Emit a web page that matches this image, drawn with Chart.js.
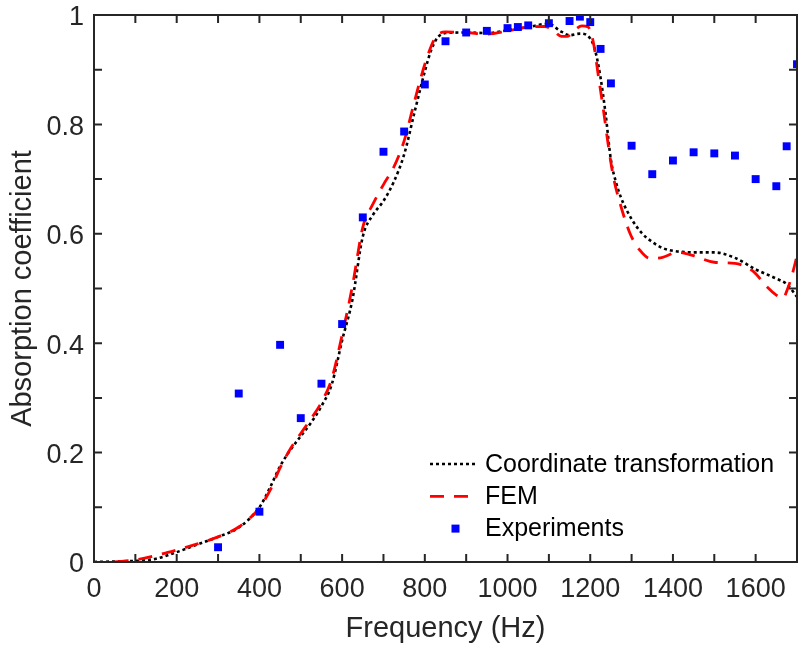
<!DOCTYPE html>
<html>
<head>
<meta charset="utf-8">
<script src="https://cdn.jsdelivr.net/npm/chart.js@4.4.0/dist/chart.umd.min.js"></script>
<style>
html,body{margin:0;padding:0;background:#ffffff;}
canvas{display:block;}
</style>
</head>
<body>
<canvas id="c" width="798" height="651"></canvas>
<script>
// ---- Data ----
const ctFreq = [0, 50, 100, 150, 200, 250, 300, 350, 400, 425, 450, 475, 500, 525, 550, 575, 600, 625, 650, 675, 700, 725, 750, 775, 800, 815, 830, 850, 900, 950, 1000, 1050, 1100, 1125, 1150, 1175, 1200, 1212, 1225, 1237, 1250, 1262, 1275, 1300, 1325, 1350, 1375, 1400, 1450, 1500, 1550, 1600, 1650, 1675, 1700];
const ctAbs  = [0.0, 0.001, 0.002, 0.006, 0.018, 0.032, 0.046, 0.063, 0.100, 0.135, 0.175, 0.205, 0.230, 0.255, 0.285, 0.325, 0.405, 0.480, 0.595, 0.635, 0.660, 0.695, 0.745, 0.822, 0.897, 0.935, 0.958, 0.967, 0.968, 0.967, 0.972, 0.978, 0.984, 0.972, 0.963, 0.966, 0.957, 0.935, 0.885, 0.820, 0.735, 0.695, 0.665, 0.627, 0.601, 0.585, 0.574, 0.569, 0.566, 0.566, 0.556, 0.535, 0.518, 0.508, 0.485];

const femFreq = [50, 100, 150, 200, 250, 300, 350, 400, 425, 450, 475, 500, 525, 550, 575, 600, 625, 650, 675, 700, 725, 750, 775, 800, 825, 850, 900, 950, 1000, 1050, 1090, 1110, 1130, 1145, 1160, 1180, 1195, 1207, 1220, 1232, 1244, 1256, 1272, 1296, 1320, 1345, 1375, 1410, 1450, 1500, 1550, 1595, 1625, 1650, 1665, 1680, 1690, 1700];
const femAbs  = [0.0, 0.004, 0.012, 0.022, 0.033, 0.046, 0.064, 0.099, 0.130, 0.172, 0.207, 0.235, 0.262, 0.292, 0.335, 0.415, 0.505, 0.612, 0.655, 0.690, 0.722, 0.770, 0.842, 0.910, 0.958, 0.969, 0.968, 0.965, 0.971, 0.978, 0.979, 0.972, 0.961, 0.961, 0.971, 0.980, 0.978, 0.952, 0.887, 0.826, 0.760, 0.704, 0.656, 0.601, 0.570, 0.555, 0.557, 0.566, 0.560, 0.548, 0.546, 0.531, 0.505, 0.488, 0.482, 0.505, 0.530, 0.560];

const expFreq = [300, 350, 400, 450, 500, 550, 600, 650, 700, 750, 800, 850, 900, 950, 1000, 1025, 1050, 1100, 1150, 1175, 1200, 1225, 1250, 1300, 1350, 1400, 1450, 1500, 1550, 1600, 1650, 1675, 1700];
const expAbs  = [0.027, 0.308, 0.092, 0.397, 0.263, 0.326, 0.435, 0.630, 0.750, 0.787, 0.873, 0.952, 0.968, 0.971, 0.976, 0.978, 0.981, 0.985, 0.989, 0.997, 0.987, 0.938, 0.875, 0.761, 0.709, 0.734, 0.749, 0.747, 0.743, 0.700, 0.687, 0.760, 0.910];

const seriesLabels = ['Coordinate transformation', 'FEM', 'Experiments'];
const xTickLabels = [0, 200, 400, 600, 800, 1000, 1200, 1400, 1600];
const yTickLabels = [0, 0.2, 0.4, 0.6, 0.8, 1];
const xTitle = 'Frequency (Hz)';
const yTitle = 'Absorption coefficient';

// ---- helpers ----
const toPts = (xs, ys) => xs.map((v, i) => ({x: v, y: ys[i]}));
const FONT = "'Liberation Sans', Arial, Helvetica, sans-serif";
const AXIS = '#262626';

const axesBoxPlugin = {
  id: 'axesBox',
  afterDraw(chart) {
    const {ctx, chartArea: a, scales: {x, y}} = chart;
    ctx.save();
    ctx.strokeStyle = AXIS;
    ctx.lineWidth = 2;
    ctx.lineCap = 'butt';
    ctx.strokeRect(a.left, a.top, a.right - a.left, a.bottom - a.top);
    const L = 8;
    ctx.beginPath();
    x.ticks.forEach(t => {
      const px = x.getPixelForValue(t.value);
      ctx.moveTo(px, a.bottom); ctx.lineTo(px, a.bottom - L);
      ctx.moveTo(px, a.top); ctx.lineTo(px, a.top + L);
    });
    y.ticks.forEach(t => {
      const py = y.getPixelForValue(t.value);
      ctx.moveTo(a.left, py); ctx.lineTo(a.left + L, py);
      ctx.moveTo(a.right, py); ctx.lineTo(a.right - L, py);
    });
    ctx.stroke();

    // legend (inside the axes, lower right, no box)
    const ds = chart.data.datasets;
    const sx0 = a.right - 367, sx1 = sx0 + 47, tx = sx0 + 55;
    const row0 = a.bottom - 98, gap = 32.3;
    ctx.font = "25px " + FONT;
    ctx.textBaseline = 'middle';
    ctx.textAlign = 'left';
    ds.forEach((d, i) => {
      const yy = row0 + i * gap;
      if (d.showLine) {
        ctx.beginPath();
        ctx.strokeStyle = d.borderColor;
        ctx.lineWidth = d.borderWidth;
        ctx.setLineDash(d.borderDash || []);
        ctx.moveTo(sx0, yy); ctx.lineTo(sx1, yy);
        ctx.stroke();
        ctx.setLineDash([]);
      } else {
        const s = 8;
        ctx.fillStyle = d.pointBackgroundColor;
        ctx.fillRect((sx0 + sx1) / 2 - s / 2 + 2, yy - s / 2, s, s);
      }
      ctx.fillStyle = '#000000';
      ctx.fillText(d.label, tx, yy + 1);
    });
    ctx.restore();
  }
};

const noPad = s => { s.paddingTop = 0; s.paddingBottom = 0; s.paddingLeft = 0; s.paddingRight = 0; };

new Chart(document.getElementById('c'), {
  type: 'scatter',
  data: {
    datasets: [
      {
        label: seriesLabels[0],
        data: toPts(ctFreq, ctAbs),
        showLine: true,
        borderColor: '#000000',
        borderWidth: 2.6,
        borderDash: [3, 3],
        pointRadius: 0,
        cubicInterpolationMode: 'monotone',
        order: 2
      },
      {
        label: seriesLabels[1],
        data: toPts(femFreq, femAbs),
        showLine: true,
        borderColor: '#ff0000',
        borderWidth: 2.8,
        borderDash: [14, 10],
        pointRadius: 0,
        cubicInterpolationMode: 'monotone',
        order: 1
      },
      {
        label: seriesLabels[2],
        data: toPts(expFreq, expAbs),
        showLine: false,
        pointStyle: 'rect',
        pointRadius: 5.6,
        pointBackgroundColor: '#0000ff',
        pointBorderWidth: 0,
        borderColor: '#0000ff',
        order: 0
      }
    ]
  },
  options: {
    responsive: false,
    animation: false,
    devicePixelRatio: 1,
    layout: { autoPadding: false, padding: { top: 15, right: 1, bottom: 0, left: 0 } },
    plugins: {
      legend: { display: false },
      tooltip: { enabled: false }
    },
    scales: {
      x: {
        type: 'linear',
        min: 0, max: 1700,
        grid: { display: false, drawTicks: false, tickLength: 0 },
        border: { display: false },
        ticks: {
          stepSize: 100,
          autoSkip: false,
          maxRotation: 0,
          padding: 11,
          color: AXIS,
          font: { family: FONT, size: 27 },
          callback: v => xTickLabels.includes(v) ? String(v) : ''
        },
        title: {
          display: true,
          text: xTitle,
          color: AXIS,
          font: { family: FONT, size: 29 },
          padding: { top: 0, bottom: 4.6 }
        },
        afterFit: s => { s.height = 89; noPad(s); }
      },
      y: {
        type: 'linear',
        min: 0, max: 1,
        grid: { display: false, drawTicks: false, tickLength: 0 },
        border: { display: false },
        ticks: {
          stepSize: 0.1,
          autoSkip: false,
          padding: 10,
          labelOffset: 3,
          color: AXIS,
          font: { family: FONT, size: 27 },
          callback: v => {
            const m = yTickLabels.find(t => Math.abs(t - v) < 1e-6);
            return m !== undefined ? String(m) : '';
          }
        },
        title: {
          display: true,
          text: yTitle,
          color: AXIS,
          font: { family: FONT, size: 29 },
          padding: { top: 5.5, bottom: 0 }
        },
        afterFit: s => { s.width = 94; noPad(s); }
      }
    }
  },
  plugins: [axesBoxPlugin]
});
</script>
</body>
</html>
